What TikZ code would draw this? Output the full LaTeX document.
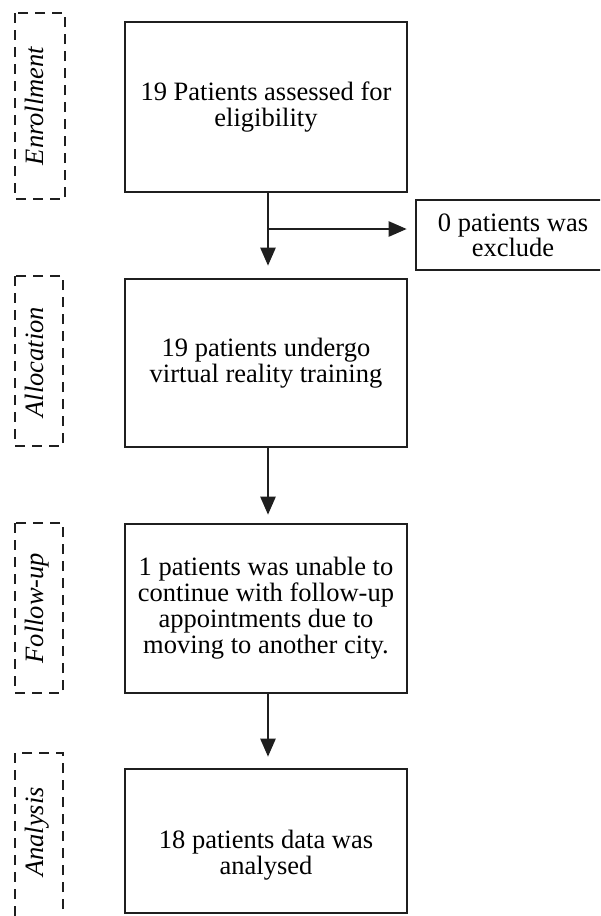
\documentclass[tikz,border=0pt]{standalone}
\usepackage{fontspec}
\setmainfont{Liberation Serif}
\usetikzlibrary{arrows.meta}
\begin{document}
\begin{tikzpicture}[x=1pt,y=-1pt,
  mainbox/.style={draw=black!88, line width=2.6pt, minimum width=282pt, align=center, inner sep=0pt,
     font=\fontsize{26.5}{26}\selectfont},
  sidebox/.style={draw=black!88, line width=2.4pt, dash pattern=on 10pt off 7pt},
  sidelabel/.style={rotate=90, anchor=base, font=\fontsize{26.5}{26}\selectfont\itshape, inner sep=0pt},
  arr/.style={draw=black!88, line width=2.4pt, -{Triangle[length=18pt,width=15pt]}}]
\clip (0,0) rectangle (600,916);
\fill[white] (0,0) rectangle (600,916);
% side phase boxes
\draw[sidebox] (15,13) rectangle (65,199);
\draw[sidebox] (15,276) rectangle (63,446);
\draw[sidebox] (15,523) rectangle (63,693);
\draw[sidebox] (15,753) rectangle (63,960);
\node[sidelabel] (lenr) at (43,106) {Enrollment};
\node[sidelabel] (lall) at (43,362) {Allocation};
\node[sidelabel] (lfol) at (43,608) {Follow-up};
\node[sidelabel] (lana) at (43,832) {Analysis};
% main boxes
\node[mainbox, minimum height=170pt] (b1) at (266,107) {19 Patients assessed for\\eligibility};
\node[mainbox, minimum height=168pt] (b2) at (266,363) {19 patients undergo\\virtual reality training};
\node[mainbox, minimum height=169pt] (b3) at (266,608.5) {1 patients was unable to\\continue with follow-up\\appointments due to\\moving to another city.};
\node[mainbox, minimum height=144pt, text depth=0pt] (b4) at (266,841) {\raisebox{-10pt}{\begin{tabular}{@{}c@{}}18 patients data was\\analysed\end{tabular}}};
\node[draw=black!88, line width=2.6pt, minimum width=194pt, minimum height=70pt, align=center, inner sep=0pt,
   font=\fontsize{26.5}{23}\selectfont] (ex) at (513,235) {0 patients was\\exclude};
% connectors
\coordinate (split) at (268,229);
\draw[arr, shorten >=12pt] (b1.south -| split) -- (b2.north -| split);
\draw[arr, shorten >=8pt] (split) -- (split -| ex.west);
\draw[arr, shorten >=8pt] (b2.south -| split) -- (b3.north -| split);
\draw[arr, shorten >=11pt] (b3.south -| split) -- (b4.north -| split);
\end{tikzpicture}
\end{document}
